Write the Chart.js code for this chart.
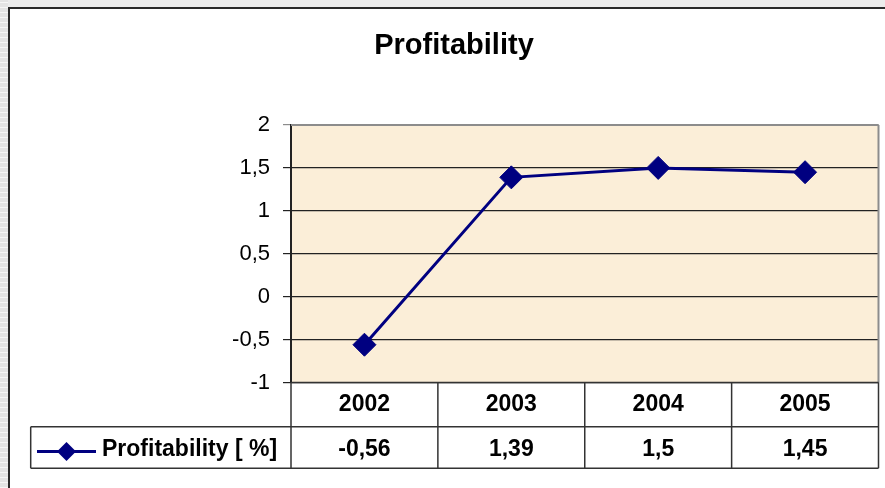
<!DOCTYPE html>
<html>
<head>
<meta charset="utf-8">
<script src="https://cdn.jsdelivr.net/npm/chart.js@4.4.1/dist/chart.umd.min.js"></script>
<style>
  html, body { margin: 0; padding: 0; overflow: hidden; background: #fff; width: 885px; height: 488px; }
  #wrap { position: absolute; left: 0; top: 0; width: 908px; height: 488px; }
</style>
</head>
<body>
<div id="wrap"><canvas id="c" width="908" height="488"></canvas></div>
<script>
// ---- data ----
const categories = ['2002', '2003', '2004', '2005'];
const profitability = [-0.56, 1.39, 1.5, 1.45];
const seriesLabel = 'Profitability [ %]';
const titleText = 'Profitability';
const yMin = -1;
const yMax = 2;
const yStep = 0.5;

const FONT = '"Liberation Sans", Arial, sans-serif';
const NAVY = '#000080';
const fmt = v => String(v).replace('.', ',');

const framePlugin = {
  id: 'frame',
  beforeDraw(chart) {
    const ctx = chart.ctx;
    const a = chart.chartArea;
    ctx.save();
    ctx.fillStyle = '#ffffff';
    ctx.fillRect(0, 0, chart.width, chart.height);
    // worksheet strips
    ctx.fillStyle = '#ececec';
    ctx.fillRect(0, 0, chart.width, 7);
    ctx.fillStyle = '#e4e4e4';
    ctx.fillRect(0, 0, 8, chart.height);
    ctx.fillStyle = '#f6f6f6';
    for (let y = 2; y < chart.height; y += 5) ctx.fillRect(0, y, 8, 1);
    // outer chart border
    ctx.fillStyle = '#2a2a2a';
    ctx.fillRect(8, 7, 2, chart.height - 7);
    ctx.fillRect(8, 7, chart.width - 8, 2);
    // plot background
    ctx.fillStyle = '#fbeed8';
    ctx.fillRect(a.left, a.top, a.right - a.left, a.bottom - a.top);
    ctx.restore();
  },
  afterDraw(chart) {
    const ctx = chart.ctx;
    const a = chart.chartArea;
    const xs = chart.scales.x;
    const n = categories.length;
    const colW = (a.right - a.left) / n;
    const rowTop = a.bottom;
    const row1 = 426.7;
    const row2 = 468.3;
    const legLeft = 30.7;
    ctx.save();
    // plot border top/right (gray)
    ctx.strokeStyle = '#8c8c8c';
    ctx.lineWidth = 2;
    ctx.beginPath();
    ctx.moveTo(a.left, a.top);
    ctx.lineTo(a.right, a.top);
    ctx.moveTo(a.right, a.top);
    ctx.lineTo(a.right, a.bottom);
    ctx.stroke();
    // table lines
    ctx.strokeStyle = '#333333';
    ctx.lineWidth = 1.5;
    ctx.beginPath();
    ctx.moveTo(a.left, rowTop); ctx.lineTo(a.right, rowTop);
    ctx.moveTo(legLeft, row1); ctx.lineTo(a.right, row1);
    ctx.moveTo(legLeft, row2); ctx.lineTo(a.right, row2);
    ctx.moveTo(legLeft, row1); ctx.lineTo(legLeft, row2);
    for (let i = 0; i <= n; i++) {
      const x = a.left + i * colW;
      ctx.moveTo(x, rowTop); ctx.lineTo(x, row2);
    }
    ctx.stroke();
    // values row
    ctx.fillStyle = '#000';
    ctx.font = 'bold 23px ' + FONT;
    ctx.textAlign = 'center';
    ctx.textBaseline = 'middle';
    const ds = chart.data.datasets[0];
    ds.data.forEach((v, i) => {
      ctx.fillText(fmt(v), xs.getPixelForValue(i), 450);
    });
    // legend key
    const ly = 451.5;
    ctx.strokeStyle = NAVY;
    ctx.lineWidth = 3;
    ctx.beginPath();
    ctx.moveTo(37, ly); ctx.lineTo(96, ly);
    ctx.stroke();
    ctx.fillStyle = NAVY;
    ctx.beginPath();
    ctx.moveTo(66.5, ly - 9.5); ctx.lineTo(76, ly); ctx.lineTo(66.5, ly + 9.5); ctx.lineTo(57, ly);
    ctx.closePath();
    ctx.fill();
    ctx.fillStyle = '#000';
    ctx.textAlign = 'left';
    ctx.fillText(ds.label, 102, 450);
    ctx.restore();
  }
};

new Chart(document.getElementById('c'), {
  type: 'line',
  data: {
    labels: categories,
    datasets: [{
      label: seriesLabel,
      data: profitability,
      borderColor: NAVY,
      backgroundColor: NAVY,
      borderWidth: 3,
      pointStyle: 'rectRot',
      pointRadius: 11.5,
      pointBorderWidth: 1,
      pointBackgroundColor: NAVY,
      pointBorderColor: NAVY,
      tension: 0,
      fill: false
    }]
  },
  options: {
    responsive: false,
    animation: false,
    events: [],
    layout: { padding: { left: 29.5, right: 29.5, top: 0, bottom: 61.3 } },
    plugins: {
      legend: { display: false },
      tooltip: { enabled: false },
      title: {
        display: true,
        text: titleText,
        color: '#000',
        font: { family: FONT, size: 29, weight: 'bold', lineHeight: 1.2 },
        padding: { top: 29, bottom: 61.2 }
      }
    },
    scales: {
      x: {
        type: 'category',
        offset: true,
        grid: { display: false, drawTicks: false },
        border: { display: false },
        ticks: {
          color: '#000',
          padding: 8,
          maxRotation: 0,
          font: { family: FONT, size: 23, weight: 'bold', lineHeight: 1.2 }
        },
        afterFit(s) { s.height = 44.2; }
      },
      y: {
        min: yMin,
        max: yMax,
        grid: {
          color: ctx => (ctx.tick && ctx.tick.value === yMax) ? '#8c8c8c' : '#222222',
          lineWidth: 1.2,
          drawTicks: true,
          tickLength: 8
        },
        border: { display: true, color: '#222222', width: 2 },
        ticks: {
          stepSize: yStep,
          color: '#000',
          padding: 13,
          font: { family: FONT, size: 22, lineHeight: 1.2 },
          callback: v => fmt(v)
        },
        afterFit(s) { s.width = 261.5; }
      }
    }
  },
  plugins: [framePlugin]
});
</script>
</body>
</html>
